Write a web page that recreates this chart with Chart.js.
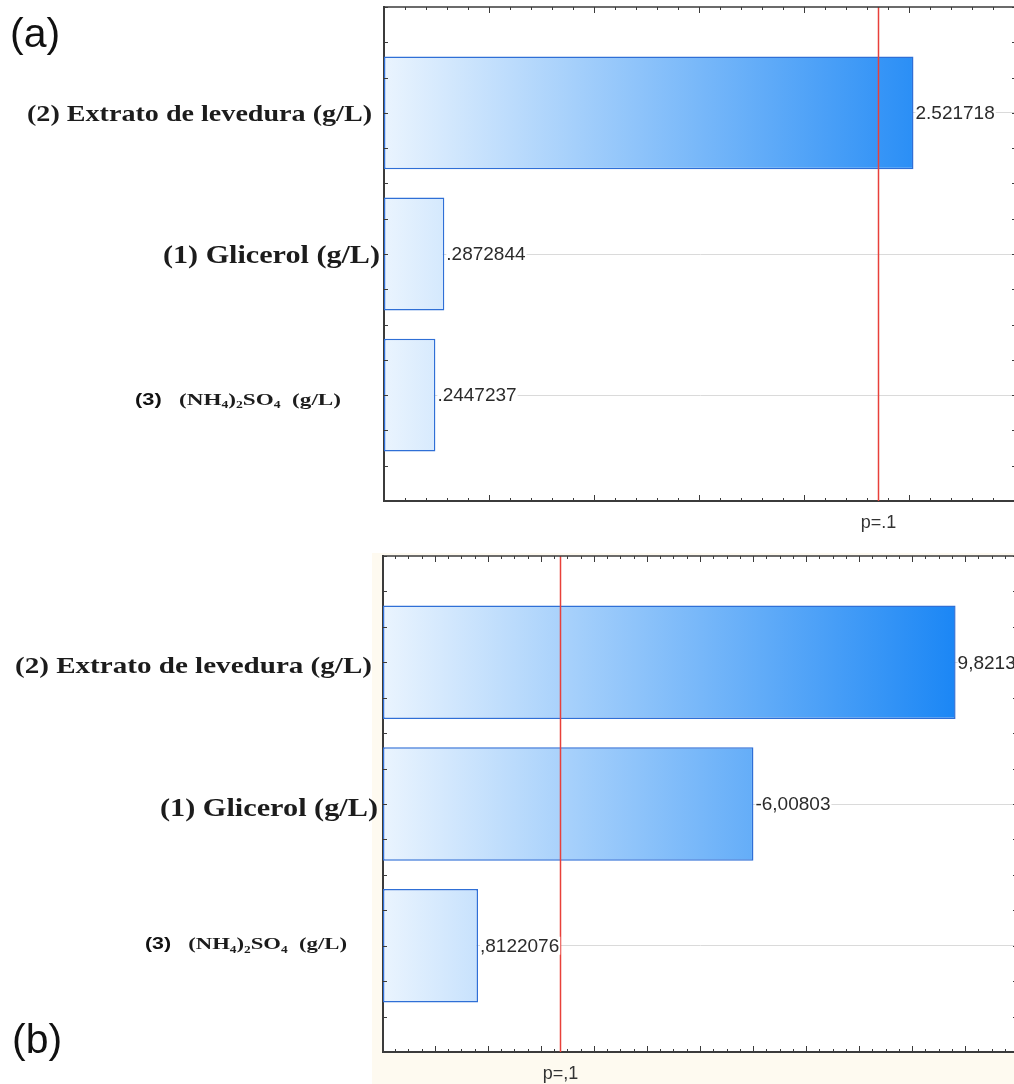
<!DOCTYPE html>
<html>
<head>
<meta charset="utf-8">
<script src="https://cdn.jsdelivr.net/npm/chart.js@4.4.1/dist/chart.umd.min.js"></script>
<style>
body{margin:0;width:1014px;height:1084px;overflow:hidden;background:#fff;position:relative;font-family:"Liberation Sans",Arial,sans-serif}
.box{position:absolute;left:0;width:1024px}
#boxA{top:0;height:545px}
#boxB{top:540px;height:544px}
.tag{position:absolute;font-size:41px;color:#111;line-height:1}
</style>
</head>
<body>
<div class="box" id="boxA"><canvas id="chA"></canvas></div>
<div class="box" id="boxB"><canvas id="chB"></canvas></div>
<div class="tag" style="left:10px;top:13px">(a)</div>
<div class="tag" style="left:12px;top:1019px">(b)</div>
<script>
// fatores (de cima para baixo) e efeitos estimados
var categories = ['(2) Extrato de levedura (g/L)', '(1) Glicerol (g/L)', '(3) (NH4)2SO4 (g/L)'];
var effectsA = [2.521718, 0.2872844, 0.2447237];
var effectsB = [9.82134, -6.00803, 0.8122076];
var pLimit = 2.353;          // t crítico, p = 0,1
var pLabelA = 'p=.1';
var pLabelB = 'p=,1';
var rangeA = [0, 3.01];
var rangeB = [-0.98, 10.98];

// pedaços do rótulo de cada fator (fonte: serif, sans, sub = índice)
var labelParts = [
  [['(2) Extrato de levedura (g/L)', 'serif']],
  [['(1) Glicerol (g/L)', 'serif']],
  [['(3)', 'sans'], ['   (NH', 'serif'], ['4', 'sub'], [')', 'serif'], ['2', 'sub'], ['SO', 'serif'], ['4', 'sub'], ['  (g/L)', 'serif']]
];

var AXIS = '#3b3b3b';

function fmt(v, dec) {
  var s = v.toPrecision(7);
  if (s.indexOf('.') >= 0) s = s.replace(/0+$/, '').replace(/\.$/, '');
  s = s.replace(/^(-?)0\./, '$1.');
  return s.replace('.', dec);
}

function barFill(c) {
  var ch = c.chart, a = ch.chartArea;
  if (!a) return '#8fc3f9';
  var g = ch.ctx.createLinearGradient(a.left, 0, a.left + 575, 0);
  g.addColorStop(0, '#eaf4fe');
  g.addColorStop(1, '#1a86f5');
  return g;
}

function drawRich(ctx, parts, right, y, width, size) {
  function font(kind) {
    if (kind == 'sans') return 'bold ' + Math.round(size * 0.95) + 'px "Liberation Sans"';
    if (kind == 'sub') return 'bold ' + Math.round(size * 0.6) + 'px "Liberation Serif"';
    return 'bold ' + size + 'px "Liberation Serif"';
  }
  var total = 0;
  parts.forEach(function (p) { ctx.font = font(p[1]); total += ctx.measureText(p[0]).width; });
  ctx.save();
  ctx.translate(right - width, y + size * 0.34);
  ctx.scale(width / total, 1);
  ctx.textAlign = 'left';
  ctx.textBaseline = 'alphabetic';
  var x = 0;
  parts.forEach(function (p) {
    ctx.font = font(p[1]);
    ctx.fillStyle = p[1] == 'sans' ? '#111' : '#1c1c1c';
    ctx.fillText(p[0], x, p[1] == 'sub' ? size * 0.18 : 0);
    x += ctx.measureText(p[0]).width;
  });
  ctx.restore();
}

var paretoPlugin = {
  id: 'pareto',
  beforeDraw: function (chart, args, o) {
    var ctx = chart.ctx, a = chart.chartArea;
    if (o.cream) {
      ctx.save();
      ctx.fillStyle = '#fefaf0';
      ctx.fillRect(o.cream[0], o.cream[1], chart.width - o.cream[0], chart.height - o.cream[1]);
      ctx.fillStyle = '#fff';
      ctx.fillRect(a.left, a.top, a.right - a.left, a.bottom - a.top);
      ctx.restore();
    }
  },
  afterDatasetsDraw: function (chart, args, o) {
    var ctx = chart.ctx, a = chart.chartArea;
    var xs = chart.scales.x, ys = chart.scales.y;
    ctx.save();

    // linha do p crítico
    var px = Math.round(xs.getPixelForValue(pLimit)) + 0.5;
    ctx.strokeStyle = '#e8403a';
    ctx.lineWidth = 1.5;
    ctx.beginPath(); ctx.moveTo(px, a.top); ctx.lineTo(px, a.bottom); ctx.stroke();

    // valores ao lado das barras
    ctx.font = '19px "Liberation Sans"';
    ctx.textBaseline = 'middle';
    ctx.textAlign = 'left';
    chart.getDatasetMeta(0).data.forEach(function (bar, i) {
      var t = fmt(o.values[i], o.dec);
      var w = ctx.measureText(t).width;
      ctx.fillStyle = '#fff';
      ctx.fillRect(bar.x + 2, bar.y - 9, w + 1, 18);
      ctx.fillStyle = '#2b2b2b';
      ctx.fillText(t, bar.x + 2, bar.y + 1);
    });

    // marcas dos eixos, voltadas para dentro
    ctx.strokeStyle = AXIS;
    ctx.lineWidth = 1;
    var k0 = Math.ceil(xs.min / o.minor), k1 = Math.floor(xs.max / o.minor);
    var every = Math.round(o.major / o.minor);
    ctx.beginPath();
    for (var k = k0; k <= k1; k++) {
      var x = Math.round(xs.getPixelForValue(k * o.minor)) + 0.5;
      var len = (k % every === 0) ? 6 : 3;
      ctx.moveTo(x, a.bottom); ctx.lineTo(x, a.bottom - len);
      ctx.moveTo(x, a.top); ctx.lineTo(x, a.top + len);
    }
    for (var q = -3; q <= 11; q++) {
      var y = Math.round(ys.getPixelForValue(q * 0.25)) + 0.5;
      ctx.moveTo(a.left, y); ctx.lineTo(a.left + 4, y);
      ctx.moveTo(a.right, y); ctx.lineTo(a.right - 4, y);
    }
    ctx.stroke();

    // moldura superior e direita
    ctx.lineWidth = 1.5;
    ctx.beginPath();
    ctx.moveTo(a.left, a.top); ctx.lineTo(a.right, a.top); ctx.lineTo(a.right, a.bottom);
    ctx.stroke();

    // rótulo do p
    ctx.font = '18px "Liberation Sans"';
    ctx.textAlign = 'center';
    ctx.fillStyle = '#333';
    ctx.fillText(o.pText, px, a.bottom + 22);

    // nomes dos fatores
    categories.forEach(function (c, i) {
      var b = o.labels[i];
      drawRich(ctx, labelParts[i], b[0], ys.getPixelForValue(i) + b[3], b[1], b[2]);
    });
    ctx.restore();
  }
};

function makeChart(id, values, o) {
  var pts = values.map(function (v, i) { return {x: Math.abs(v), y: i}; });
  o.values = values;
  return new Chart(document.getElementById(id), {
    type: 'bar',
    data: {
      datasets: [{
        data: pts,
        base: o.range[0],
        backgroundColor: barFill,
        borderColor: '#2f6fd6',
        borderWidth: 1.5,
        borderSkipped: false,
        barPercentage: 0.8,
        categoryPercentage: 1
      }]
    },
    options: {
      indexAxis: 'y',
      responsive: true,
      maintainAspectRatio: false,
      animation: false,
      layout: {padding: o.pad},
      plugins: {legend: {display: false}, tooltip: {enabled: false}, pareto: o},
      scales: {
        x: {
          type: 'linear', min: o.range[0], max: o.range[1],
          ticks: {display: false},
          grid: {display: false, drawTicks: false},
          border: {display: true, color: AXIS, width: 2}
        },
        y: {
          type: 'linear', min: -0.75, max: 2.75, reverse: true, offset: false, bounds: 'data',
          ticks: {display: false},
          // uma linha de grade por fator
          afterBuildTicks: function (s) {
            s.ticks = categories.map(function (c, i) { return {value: i}; });
          },
          grid: {offset: false, drawTicks: false, lineWidth: 1, color: '#dadada'},
          border: {display: true, color: AXIS, width: 2}
        }
      }
    },
    plugins: [paretoPlugin]
  });
}

makeChart('chA', effectsA, {
  range: rangeA, major: 0.5, minor: 0.1, dec: '.', pText: pLabelA,
  pad: {left: 384, top: 7, right: 8, bottom: 44},
  labels: [[372, 345, 23, 0], [380, 217, 26, 0], [341, 206, 17, 4]]
});

makeChart('chB', effectsB, {
  range: rangeB, major: 1, minor: 0.25, dec: ',', pText: pLabelB,
  pad: {left: 383, top: 16, right: 7, bottom: 32},
  cream: [372, 13],
  labels: [[372, 357, 24, 3], [378, 218, 26, 3], [347, 202, 17, -2]]
});
</script>
</body>
</html>
